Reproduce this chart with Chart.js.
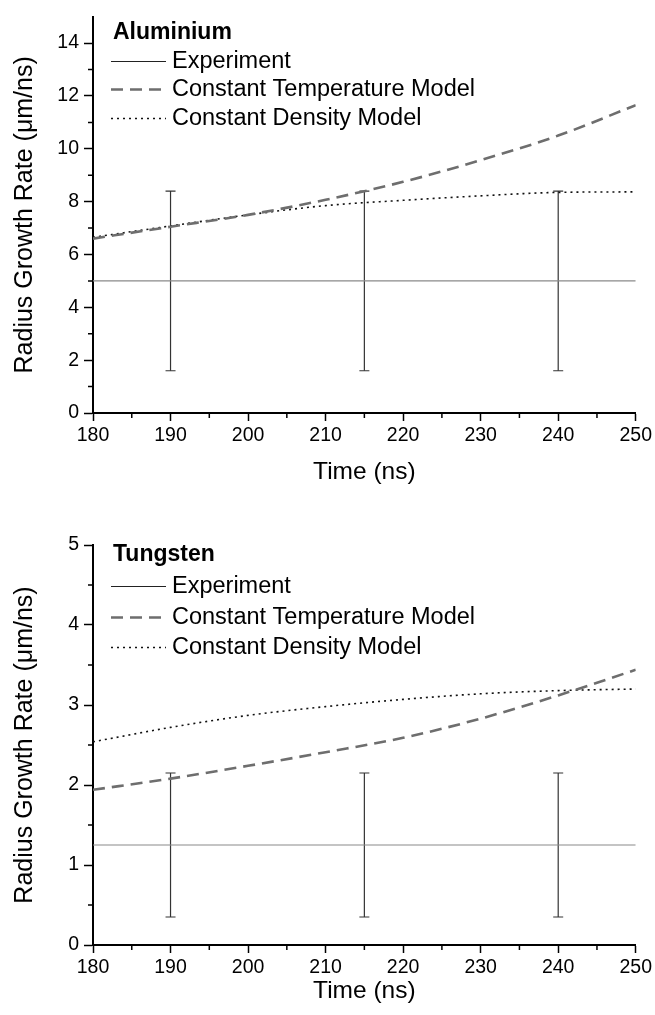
<!DOCTYPE html>
<html>
<head>
<meta charset="utf-8">
<title>Radius Growth Rate</title>
<script src="https://cdn.jsdelivr.net/npm/chart.js@4"></script>
<style>
  body { margin: 0; background: #fff; }
  canvas { display: block; }
</style>
</head>
<body>
<canvas id="alChart" width="655" height="500"></canvas>
<canvas id="wChart" width="655" height="515"></canvas>
<script>
  // values
  const time = [180, 190, 200, 210, 220, 230, 240, 250];
  const alTemp = [6.6, 7.05, 7.5, 8.07, 8.75, 9.57, 10.5, 11.65];
  const alDensity = [6.65, 7.08, 7.5, 7.85, 8.05, 8.22, 8.35, 8.37];
  const wTemp = [1.94, 2.08, 2.24, 2.41, 2.59, 2.83, 3.12, 3.44];
  const wDensity = [2.54, 2.72, 2.87, 2.98, 3.07, 3.14, 3.18, 3.2];

  const errTimes = [190, 215, 240];
  const alExp = 5, alErrLow = 1.6, alErrHigh = 8.4;
  const wExp = 1.25, wErrLow = 0.35, wErrHigh = 2.15;

  const xTicks = [180, 190, 200, 210, 220, 230, 240, 250];
  const xMinor = [185, 195, 205, 215, 225, 235, 245];
  const alYTicks = [0, 2, 4, 6, 8, 10, 12, 14];
  const alYMinor = [1, 3, 5, 7, 9, 11, 13];
  const wYTicks = [0, 1, 2, 3, 4, 5];
  const wYMinor = [0.5, 1.5, 2.5, 3.5, 4.5];

  const FONT = '"Liberation Sans", Arial, sans-serif';

  const minorTicks = {
    id: 'minorTicks',
    afterDraw(chart, args, o) {
      const {ctx, scales: {x, y}} = chart;
      ctx.save();
      ctx.strokeStyle = '#000';
      ctx.lineWidth = 1.5;
      ctx.beginPath();
      o.x.forEach(v => {
        const px = x.getPixelForValue(v);
        ctx.moveTo(px, x.top);
        ctx.lineTo(px, x.top + o.len);
      });
      o.y.forEach(v => {
        const py = y.getPixelForValue(v);
        ctx.moveTo(y.right, py);
        ctx.lineTo(y.right - o.len, py);
      });
      ctx.stroke();
      ctx.restore();
    }
  };

  // legend drawn inside the plot, top left
  const insideLegend = {
    id: 'insideLegend',
    afterDraw(chart, args, o) {
      const {ctx, chartArea} = chart;
      const left = chartArea.left;
      ctx.save();
      ctx.fillStyle = '#000';
      ctx.textBaseline = 'middle';
      ctx.font = 'bold 23px ' + FONT;
      ctx.fillText(o.title, left + 20, chartArea.top + o.titleY);
      ctx.font = '23.5px ' + FONT;
      let row = 0;
      chart.data.datasets.forEach(ds => {
        if (ds.inLegend === false) return;
        const y = Math.round(chartArea.top + o.firstRow + row * o.rowGap) + 0.5;
        ctx.beginPath();
        ctx.setLineDash(ds.borderDash || []);
        ctx.lineWidth = ds.borderWidth;
        ctx.strokeStyle = ds.legendColor || ds.borderColor;
        ctx.moveTo(left + 18, y);
        ctx.lineTo(left + 73, y);
        ctx.stroke();
        ctx.setLineDash([]);
        ctx.fillText(ds.label, left + 79, y);
        row++;
      });
      ctx.restore();
    }
  };

  function pts(ys) {
    return time.map((t, i) => ({x: t, y: ys[i]}));
  }

  function errorPoints(low, high) {
    const out = [];
    errTimes.forEach(t => {
      out.push({x: t, y: low}, {x: t, y: high}, {x: t, y: null});
    });
    return out;
  }

  function makeChart(id, cfg) {
    return new Chart(document.getElementById(id), {
      type: 'line',
      data: {
        datasets: [
          {
            label: 'Experiment',
            data: [{x: time[0], y: cfg.exp}, {x: time[time.length - 1], y: cfg.exp}],
            borderColor: '#8a8a8a',
            legendColor: '#222',
            borderWidth: 1.2,
            pointRadius: 0
          },
          {
            label: 'Constant Temperature Model',
            data: pts(cfg.temp),
            borderColor: '#6e6e6e',
            borderWidth: 2.6,
            borderDash: [12, 7],
            pointRadius: 0,
            cubicInterpolationMode: 'monotone'
          },
          {
            label: 'Constant Density Model',
            data: pts(cfg.density),
            borderColor: '#111',
            borderWidth: 1.6,
            borderDash: [2, 4],
            pointRadius: 0,
            cubicInterpolationMode: 'monotone'
          },
          {
            label: 'error',
            inLegend: false,
            data: errorPoints(cfg.errLow, cfg.errHigh),
            borderColor: '#333',
            borderWidth: 1.2,
            spanGaps: false,
            pointStyle: 'line',
            pointRadius: 5,
            pointBorderWidth: 1.2,
            pointBorderColor: '#333'
          }
        ]
      },
      options: {
        responsive: false,
        animation: false,
        events: [],
        layout: {padding: {top: cfg.padTop, right: cfg.padRight, left: 0, bottom: 0}},
        plugins: {
          legend: {display: false},
          tooltip: {enabled: false},
          minorTicks: {x: xMinor, y: cfg.yMinor, len: 5},
          insideLegend: {title: cfg.title, titleY: cfg.titleY, firstRow: cfg.firstRow, rowGap: cfg.rowGap}
        },
        scales: {
          x: {
            type: 'linear',
            min: 180,
            max: 250,
            afterBuildTicks: s => { s.ticks = xTicks.map(v => ({value: v})); },
            afterFit: s => { s.height = cfg.xHeight; },
            ticks: {font: {size: 19.5, family: FONT}, color: '#000', padding: 3, maxRotation: 0, autoSkip: false},
            grid: {drawOnChartArea: false, tickLength: 8, tickWidth: 1.5, tickColor: '#000'},
            border: {color: '#000', width: 2},
            title: {display: true, text: 'Time (ns)', color: '#000', font: {size: 24.5, family: FONT}, padding: {top: 0, bottom: cfg.xTitlePad}}
          },
          y: {
            min: 0,
            max: cfg.yMax,
            afterBuildTicks: s => { s.ticks = cfg.yTicks.map(v => ({value: v})); },
            afterFit: s => { s.width = 93; },
            ticks: {font: {size: 19.5, family: FONT}, color: '#000', padding: 5},
            grid: {drawOnChartArea: false, tickLength: 9, tickWidth: 1.5, tickColor: '#000'},
            border: {color: '#000', width: 2},
            title: {display: true, text: 'Radius Growth Rate (\u03bcm/ns)', color: '#000', font: {size: 25, family: FONT}, padding: {top: 10, bottom: 0}}
          }
        }
      },
      plugins: [minorTicks, insideLegend]
    });
  }

  makeChart('alChart', {
    title: 'Aluminium', exp: alExp, errLow: alErrLow, errHigh: alErrHigh,
    temp: alTemp, density: alDensity, yMax: 15, yTicks: alYTicks, yMinor: alYMinor,
    padTop: 14, padRight: 17, xHeight: 87, xTitlePad: 13,
    titleY: 16, firstRow: 44, rowGap: 28.5
  });

  makeChart('wChart', {
    title: 'Tungsten', exp: wExp, errLow: wErrLow, errHigh: wErrHigh,
    temp: wTemp, density: wDensity, yMax: 5, yTicks: wYTicks, yMinor: wYMinor,
    padTop: 45, padRight: 19, xHeight: 70, xTitlePad: 9,
    titleY: 10, firstRow: 41, rowGap: 30.5
  });
</script>
</body>
</html>
